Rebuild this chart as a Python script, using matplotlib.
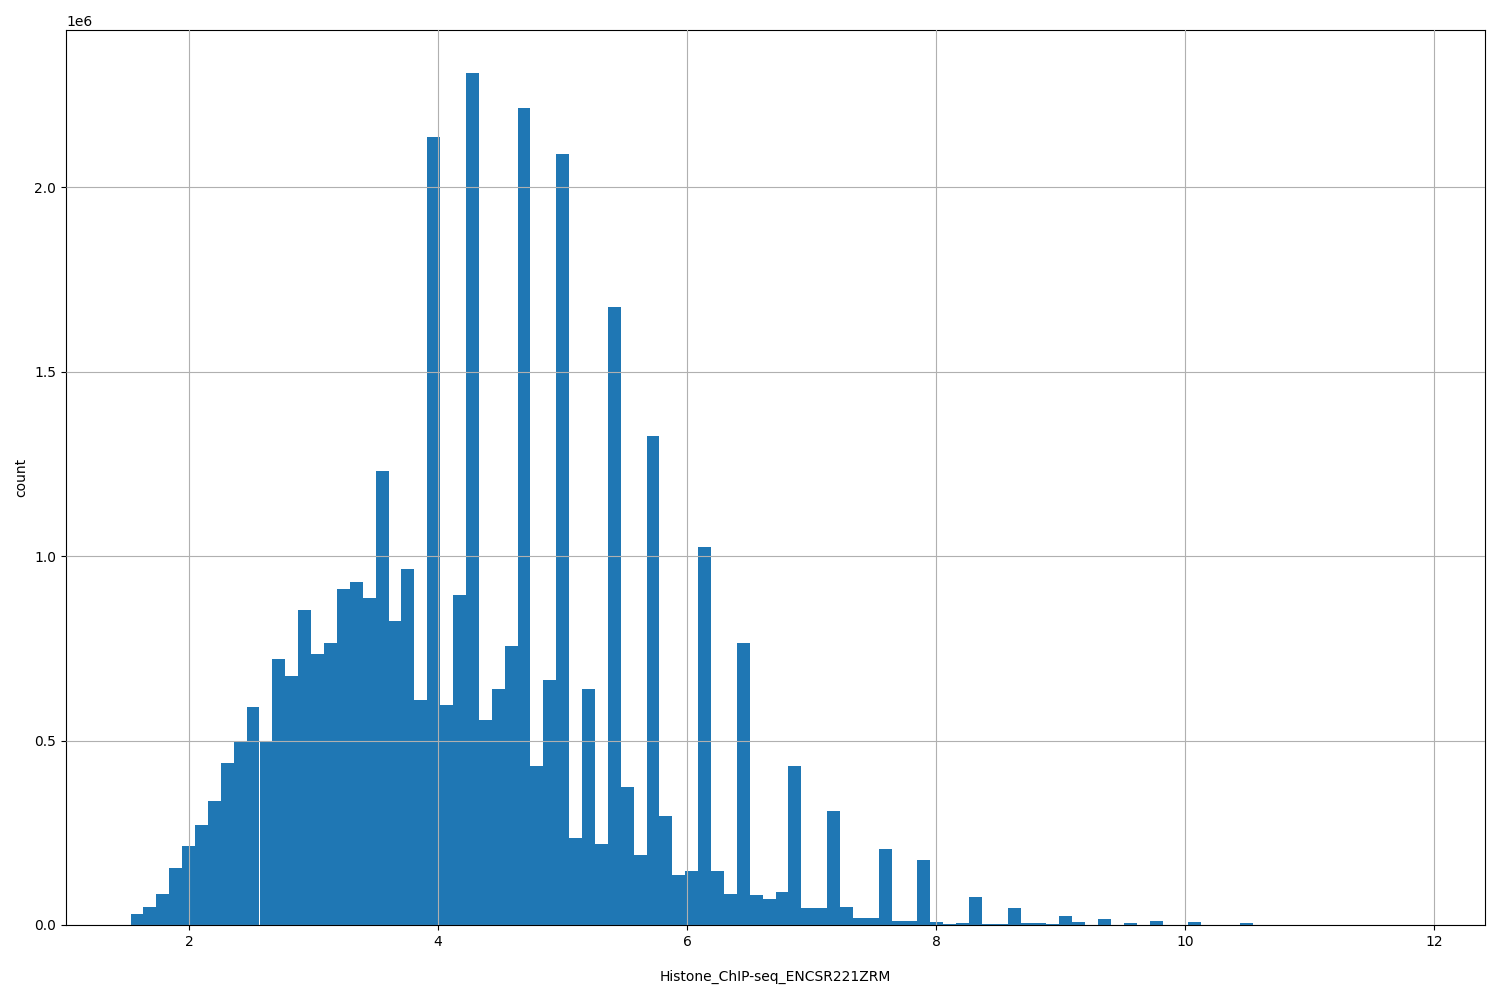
import numpy as np
import matplotlib
matplotlib.use("Agg")
import matplotlib.pyplot as plt

# histogram range and bin counts (in millions)
x_min = 1.53
x_max = 11.89
counts_m = [
    0.03, 0.05, 0.085, 0.155, 0.215, 0.27, 0.335, 0.44, 0.495, 0.59,
    0.5, 0.72, 0.675, 0.855, 0.735, 0.765, 0.91, 0.93, 0.885, 1.23,
    0.825, 0.965, 0.61, 2.135, 0.595, 0.895, 2.31, 0.555, 0.64, 0.755,
    2.215, 0.43, 0.665, 2.09, 0.235, 0.64, 0.22, 1.675, 0.375, 0.19,
    1.325, 0.295, 0.135, 0.145, 1.025, 0.145, 0.085, 0.765, 0.08, 0.07,
    0.09, 0.43, 0.045, 0.045, 0.31, 0.05, 0.018, 0.02, 0.205, 0.01,
    0.01, 0.175, 0.008, 0.002, 0.005, 0.075, 0.003, 0.003, 0.045, 0.005,
    0.005, 0.002, 0.025, 0.008, 0.001, 0.015, 0.001, 0.005, 0.001, 0.012,
    0.001, 0.001, 0.008, 0.001, 0.0005, 0.001, 0.005, 0.0005, 0.0005, 0.0005,
    0.0003, 0.0003, 0.0003, 0.0002, 0.0002, 0.0002, 0.0001, 0.0001, 0.0001, 0.0001,
]
x_label = "Histone_ChIP-seq_ENCSR221ZRM"

counts = np.array(counts_m) * 1e6
edges = np.linspace(x_min, x_max, len(counts) + 1)
centers = (edges[:-1] + edges[1:]) / 2

fig, ax = plt.subplots(figsize=(15, 10), dpi=100)
ax.hist(centers, bins=edges, weights=counts, color="#1f77b4")
ax.grid(True)
ax.set_axisbelow(False)
ax.set_xlabel(x_label, labelpad=15)
ax.set_ylabel("count")
fig.subplots_adjust(left=0.044, right=0.99, top=0.97, bottom=0.075)
fig.savefig("out.png")
